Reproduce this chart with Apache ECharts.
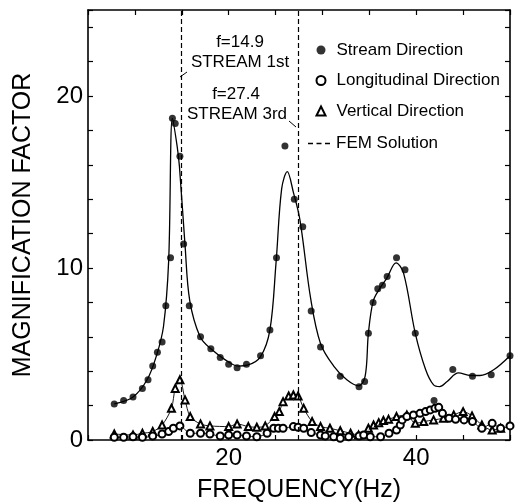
<!DOCTYPE html>
<html>
<head>
<meta charset="utf-8">
<script src="https://cdn.jsdelivr.net/npm/echarts@6/dist/echarts.min.js"></script>
<style>
  html, body { margin: 0; padding: 0; background: #fff; }
  #chart { width: 522px; height: 504px; }
</style>
</head>
<body>
<div id="chart"></div>
<script>
// measured points, stream direction (filled dots)
var streamFreq = [7.8, 8.8, 9.8, 10.8, 11.4, 11.9, 12.4, 12.9, 13.3, 13.8, 14.0, 14.3, 14.8, 15.2, 15.8,
  17.0, 18.1, 19.1, 20.0, 20.9, 21.9, 23.4, 24.4, 25.1, 26.0, 27.0, 27.9, 28.8, 29.8, 31.9,
  33.9, 34.5, 34.9, 35.4, 35.9, 36.4, 36.9, 37.9, 38.8, 39.9, 41.9, 43.9, 46.0, 48.0, 50.0];
var streamMag = [2.1, 2.3, 2.5, 3.0, 3.5, 4.3, 5.1, 5.7, 7.8, 10.6, 18.7, 18.4, 16.5, 11.4, 7.8,
  6.0, 5.3, 4.8, 4.4, 4.2, 4.4, 4.9, 6.4, 10.6, 17.1, 14.0, 12.4, 7.5, 5.4, 3.7,
  3.1, 3.4, 6.2, 8.0, 8.8, 9.0, 9.5, 10.6, 9.9, 6.2, 2.3, 4.1, 3.7, 3.8, 4.9];

// fitted curve through the stream data (solid line)
var curveFreq = [7.8, 9.8, 11.3, 12.3, 13.05, 13.6, 14.0, 14.5, 14.75, 15.35, 15.85, 16.95, 18.1, 19.8,
  21.0, 22.0, 23.4, 24.4, 25.05, 25.65, 26.25, 26.9, 27.6, 28.75, 29.8, 31.2, 32.6, 33.85, 34.55,
  34.9, 35.4, 36.1, 36.85, 37.85, 38.65, 39.9, 41.0, 41.85, 42.5, 43.3, 44.5, 45.8, 46.8, 48.3, 50.0];
var curveMag = [2.1, 2.5, 3.5, 4.9, 6.6, 10.4, 18.7, 17.1, 15.9, 11.3, 8.1, 6.0, 5.3, 4.6,
  4.3, 4.35, 4.85, 6.4, 10.3, 14.6, 15.6, 14.4, 12.8, 8.2, 5.6, 4.3, 3.5, 3.15, 3.7,
  6.2, 8.05, 8.8, 9.4, 10.3, 9.7, 6.2, 4.1, 3.2, 3.1, 3.4, 3.9, 3.75, 3.75, 4.1, 4.9];

// longitudinal direction (open circles)
var longFreq = [7.8, 8.8, 9.8, 10.8, 11.9, 12.9, 13.6, 14.1, 14.8, 15.9, 17.0, 18.0, 19.1, 20.0, 20.9,
  21.9, 23.0, 24.1, 24.8, 25.3, 25.8, 26.9, 27.4, 28.0, 28.8, 29.8, 30.3, 31.2, 31.9, 32.8, 33.9,
  34.4, 35.1, 36.2, 37.1, 37.9, 38.3, 38.5, 39.0, 39.7, 40.4, 41.0, 41.5, 42.0, 42.4, 42.8, 43.5,
  44.2, 45.1, 46.0, 47.0, 48.1, 49.0, 50.0];
var longMag = [0.16, 0.16, 0.19, 0.16, 0.23, 0.35, 0.49, 0.68, 0.82, 0.39, 0.39, 0.35, 0.23, 0.29, 0.29,
  0.23, 0.19, 0.39, 0.68, 0.68, 0.68, 0.78, 0.74, 0.68, 0.43, 0.29, 0.23, 0.19, 0.1, 0.19, 0.23,
  0.29, 0.19, 0.19, 0.39, 0.58, 0.87, 1.17, 1.36, 1.46, 1.55, 1.65, 1.75, 1.84, 1.9, 1.55, 1.26,
  1.2, 1.17, 1.07, 0.68, 0.97, 0.68, 0.82];

// vertical direction (open triangles)
var vertFreq = [7.8, 9.8, 10.8, 11.9, 12.9, 13.9, 14.3, 14.8, 15.35, 15.9, 17.0, 18.0, 20.0, 20.9,
  22.1, 23.0, 23.9, 24.9, 25.4, 25.8, 26.4, 26.9, 27.4, 28.0, 28.9, 29.8, 30.8, 31.9, 33.0, 33.85,
  34.9, 35.45, 36.0, 36.5, 37.05, 37.9, 39.0, 39.9, 40.8, 41.85, 42.9, 44.0, 45.0, 45.95, 47.0, 48.1, 49.0];
var vertMag = [0.35, 0.29, 0.39, 0.49, 0.87, 1.84, 3.0, 3.5, 2.33, 1.36, 0.93, 0.82, 0.78, 0.93,
  0.78, 0.74, 0.82, 1.36, 1.65, 2.23, 2.56, 2.62, 2.56, 1.84, 1.07, 0.78, 0.68, 0.54, 0.39, 0.29,
  0.68, 0.87, 1.01, 1.13, 1.2, 1.36, 1.46, 0.97, 1.07, 1.17, 1.26, 1.46, 1.65, 1.4, 0.87, 0.58, 0.68];

// FEM natural frequencies
var femFreq = [14.9, 27.4];
var femMode = ['STREAM 1st', 'STREAM 3rd'];

var xTickLabels = [20, 40];
var yTickLabels = [0, 10, 20];

var FONT = 'Liberation Sans';

function zip(a, b) {
  var out = [];
  for (var i = 0; i < a.length; i++) out.push([a[i], b[i]]);
  return out;
}

var chart = echarts.init(document.getElementById('chart'));

var axisLine = { show: true, onZero: false, lineStyle: { color: '#000', width: 1.6 } };
var axisTick = { show: true, inside: true, length: 5, lineStyle: { color: '#000', width: 1.2 } };
var annoFont = '17px ' + FONT;

chart.setOption({
  animation: false,
  backgroundColor: '#fff',
  grid: { left: 88, right: 12, top: 10, bottom: 64, outerBoundsMode: 'none' },
  legend: [
    {
      orient: 'vertical',
      left: 315.5,
      top: 41.5,
      padding: 0,
      itemWidth: 9,
      itemHeight: 9,
      itemGap: 13.5,
      textStyle: { fontFamily: FONT, fontSize: 17, color: '#000', padding: [0, 0, 0, 6] },
      data: [
        { name: 'Stream Direction', icon: 'circle' },
        { name: 'Longitudinal Direction', icon: 'emptyCircle' },
        { name: 'Vertical Direction', icon: 'emptyTriangle' }
      ]
    },
    {
      left: 308,
      top: 135,
      padding: 0,
      itemWidth: 22,
      itemHeight: 1.5,
      textStyle: { fontFamily: FONT, fontSize: 17, color: '#000', padding: [0, 0, 0, 1] },
      data: [
        { name: 'FEM Solution', icon: 'path://M0,0h5v1.5h-5z M8.5,0h5v1.5h-5z M17,0h5v1.5h-5z' }
      ]
    }
  ],
  xAxis: [
    {
      type: 'value', min: 5, max: 50, interval: 5, position: 'bottom',
      axisLine: axisLine, axisTick: axisTick, splitLine: { show: false },
      axisLabel: {
        margin: 6, fontFamily: FONT, fontSize: 24, color: '#000',
        formatter: function (v) { return xTickLabels.indexOf(v) >= 0 ? String(v) : ''; }
      },
      name: 'FREQUENCY(Hz)', nameLocation: 'middle', nameGap: 38,
      nameTextStyle: { fontFamily: FONT, fontSize: 25, color: '#000' }
    },
    {
      type: 'value', min: 5, max: 50, interval: 5, position: 'top',
      axisLine: axisLine, axisTick: axisTick, splitLine: { show: false },
      axisLabel: { show: false }
    }
  ],
  yAxis: [
    {
      type: 'value', min: 0, max: 25, interval: 2, position: 'left',
      axisLine: axisLine, axisTick: axisTick, splitLine: { show: false },
      axisLabel: {
        margin: 5, fontFamily: FONT, fontSize: 24, color: '#000',
        formatter: function (v) { return yTickLabels.indexOf(v) >= 0 ? String(v) : ''; }
      },
      name: 'MAGNIFICATION FACTOR', nameLocation: 'middle', nameGap: 52,
      nameTextStyle: { fontFamily: FONT, fontSize: 25, color: '#000' }
    },
    {
      type: 'value', min: 0, max: 25, interval: 2, position: 'right',
      axisLine: axisLine, axisTick: axisTick, splitLine: { show: false },
      axisLabel: { show: false }
    }
  ],
  graphic: [
    { type: 'text', x: 240, y: 42, style: { text: 'f=' + femFreq[0], font: annoFont, fill: '#000', textAlign: 'center', textVerticalAlign: 'middle' } },
    { type: 'text', x: 240, y: 62, style: { text: femMode[0], font: annoFont, fill: '#000', textAlign: 'center', textVerticalAlign: 'middle' } },
    { type: 'text', x: 236, y: 94, style: { text: 'f=' + femFreq[1], font: annoFont, fill: '#000', textAlign: 'center', textVerticalAlign: 'middle' } },
    { type: 'text', x: 237, y: 114, style: { text: femMode[1], font: annoFont, fill: '#000', textAlign: 'center', textVerticalAlign: 'middle' } },
    { type: 'line', shape: { x1: 180, y1: 77, x2: 187, y2: 72 }, style: { stroke: '#000', lineWidth: 1 } },
    { type: 'line', shape: { x1: 289, y1: 121, x2: 296, y2: 127 }, style: { stroke: '#000', lineWidth: 1 } }
  ],
  series: [
    {
      name: 'fit', type: 'line', silent: true, smooth: 0.35, symbol: 'none',
      data: zip(curveFreq, curveMag),
      lineStyle: { color: '#000', width: 1.3 }, z: 2
    },
    {
      name: 'Vertical Direction', type: 'line', smooth: 0.3,
      symbol: 'emptyTriangle', symbolSize: 7, showSymbol: true,
      data: zip(vertFreq, vertMag),
      itemStyle: { color: '#000', borderWidth: 1 },
      lineStyle: { color: '#000', width: 0.9 }, z: 3
    },
    {
      name: 'Longitudinal Direction', type: 'line', smooth: 0.3,
      symbol: 'emptyCircle', symbolSize: 7, showSymbol: true,
      data: zip(longFreq, longMag),
      itemStyle: { color: '#000', borderWidth: 1 },
      lineStyle: { color: '#000', width: 0.9 }, z: 4
    },
    {
      name: 'Stream Direction', type: 'scatter', symbol: 'circle', symbolSize: 7,
      data: zip(streamFreq, streamMag),
      itemStyle: { color: '#000' }, z: 5
    },
    {
      name: 'FEM Solution', type: 'line', symbol: 'none', data: [],
      itemStyle: { color: '#000' },
      lineStyle: { color: '#000', width: 1.2, type: [5, 3] },
      markLine: {
        silent: true, symbol: 'none', label: { show: false },
        lineStyle: { color: '#000', width: 1.2, type: [5, 3] },
        data: femFreq.map(function (f) { return { xAxis: f }; })
      }
    }
  ]
});
</script>
</body>
</html>
